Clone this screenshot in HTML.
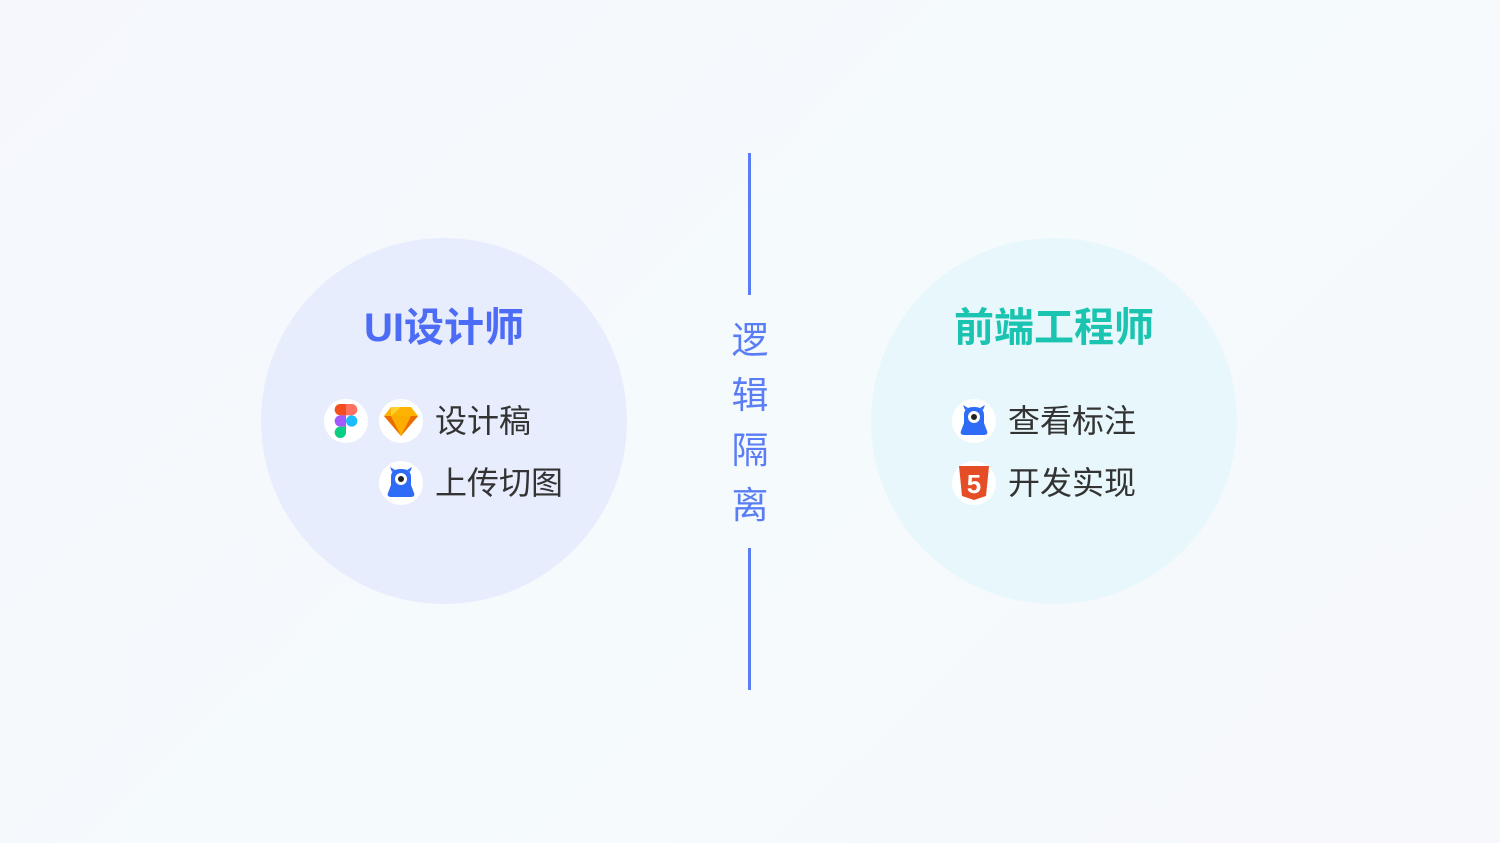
<!DOCTYPE html>
<html><head><meta charset="utf-8"><style>
html,body{margin:0;padding:0}
body{width:1500px;height:843px;position:relative;overflow:hidden;background:linear-gradient(135deg,#f5f7fc 0%,#f5fafd 50%,#f7f8fc 100%);font-family:"Liberation Sans","Noto Sans CJK SC",sans-serif}
.c{position:absolute;width:366px;height:366px;border-radius:50%}
.t{position:absolute;font-size:40px;font-weight:bold;width:400px;text-align:center;line-height:1}
.ic{position:absolute;width:44px;height:44px;border-radius:50%;background:#fff;display:flex;align-items:center;justify-content:center}
.lb{position:absolute;font-size:32px;color:#333;line-height:1}
.v{position:absolute;left:730px;font-size:37px;color:#5a7df5;line-height:1;width:40px;text-align:center}
.ln{position:absolute;left:748px;width:3px;background:#5a7df5}
</style></head><body>
<div class="c" style="left:261px;top:238px;background:#e8edfd"></div>
<div class="c" style="left:871px;top:238px;background:#e8f7fb"></div>
<div class="t" style="left:244px;top:308px;color:#4d6cf6">UI设计师</div>
<div class="t" style="left:854px;top:308px;color:#1bc4b0">前端工程师</div>

<div class="ic" style="left:324px;top:399px"><svg width="24" height="34" viewBox="0 0 24 36"><path d="M6 0h6v12H6a6 6 0 0 1 0-12z" fill="#f24e1e"/><path d="M12 0h6a6 6 0 0 1 0 12h-6z" fill="#ff7262"/><path d="M6 12h6v12H6a6 6 0 0 1 0-12z" fill="#a259ff"/><circle cx="18" cy="18" r="6" fill="#1abcfe"/><path d="M6 24h6v6a6 6 0 1 1-6-6z" fill="#0acf83"/></svg></div>
<div class="ic" style="left:379px;top:399px"><svg width="34" height="30" viewBox="0 0 34 30"><polygon points="7,1 27,1 34,10 17,30 0,10" fill="#fdb300"/><polygon points="0,10 34,10 17,30" fill="#ea6c00"/><polygon points="7,10 27,10 17,30" fill="#fdad00"/><polygon points="7,1 17,1 7,10" fill="#fdd231"/></svg></div>
<div class="lb" style="left:435px;top:405px">设计稿</div>
<div class="ic" style="left:379px;top:461px"><svg width="30" height="32" viewBox="0 0 30 32"><path d="M5 30c-3 0-4-2-3-4l3-8V10C5 4 9 2 15 2s10 2 10 8v8l3 8c1 2 0 4-3 4z" fill="#2e6bf6"/><circle cx="15" cy="12" r="6" fill="#fff"/><circle cx="15" cy="12" r="3" fill="#222"/><path d="M6 5 4 0l5 3M24 5l2-5-5 3" fill="#2e6bf6"/></svg></div>
<div class="lb" style="left:435px;top:467px">上传切图</div>

<div class="ic" style="left:952px;top:399px"><svg width="30" height="32" viewBox="0 0 30 32"><path d="M5 30c-3 0-4-2-3-4l3-8V10C5 4 9 2 15 2s10 2 10 8v8l3 8c1 2 0 4-3 4z" fill="#2e6bf6"/><circle cx="15" cy="12" r="6" fill="#fff"/><circle cx="15" cy="12" r="3" fill="#222"/><path d="M6 5 4 0l5 3M24 5l2-5-5 3" fill="#2e6bf6"/></svg></div>
<div class="lb" style="left:1008px;top:405px">查看标注</div>
<div class="ic" style="left:952px;top:461px"><svg width="30" height="34" viewBox="0 0 30 34"><polygon points="0,0 30,0 27,30 15,34 3,30" fill="#e44d26"/><text x="15" y="27" font-size="26" font-weight="bold" fill="#fff" text-anchor="middle" font-family="Liberation Sans">5</text></svg></div>
<div class="lb" style="left:1008px;top:467px">开发实现</div>

<div class="ln" style="top:153px;height:142px"></div>
<div class="ln" style="top:548px;height:142px"></div>
<div class="v" style="top:322px">逻</div>
<div class="v" style="top:377px">辑</div>
<div class="v" style="top:432px">隔</div>
<div class="v" style="top:487px">离</div>
</body></html>
